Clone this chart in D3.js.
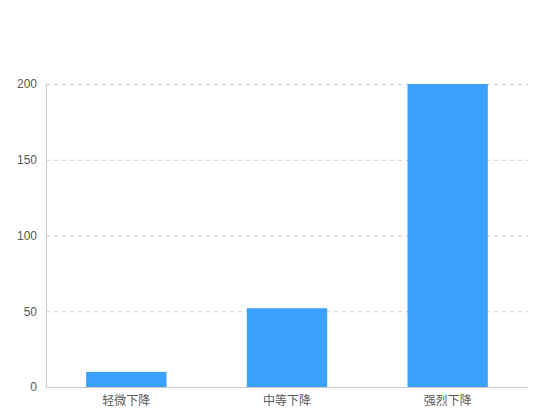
<!DOCTYPE html>
<html>
<head>
<meta charset="utf-8">
<script src="https://cdn.jsdelivr.net/npm/d3@7"></script>
<style>
  body { margin: 0; background: #fff; }
  text { font-family: "Liberation Sans", "Noto Sans CJK SC", sans-serif; }
</style>
</head>
<body>
<div id="chart"></div>
<script>
// data
const categories = ["轻微下降", "中等下降", "强烈下降"]
const values = [10, 52, 200]
const yTicks = [0, 50, 100, 150, 200]

const WIDTH = 550
const HEIGHT = 420
const margin = { top: 84, right: 22, bottom: 33, left: 46 }
const w = WIDTH - margin.left - margin.right
const h = HEIGHT - margin.top - margin.bottom

const svg = d3.select("#chart").append("svg")
  .attr("width", WIDTH)
  .attr("height", HEIGHT)

const g = svg.append("g").attr("transform", `translate(${margin.left},${margin.top})`)

const x = d3.scaleBand().domain(categories).range([0, w]).paddingInner(0.5).paddingOuter(0.25)
const y = d3.scaleLinear().domain([0, 200]).range([h, 0])

// dashed grid
g.selectAll(".grid")
  .data(yTicks.filter(d => d > 0))
  .enter()
  .append("line")
  .attr("x1", 0)
  .attr("x2", w)
  .attr("y1", d => y(d) + 0.5)
  .attr("y2", d => y(d) + 0.5)
  .attr("stroke", "#cccccc")
  .attr("stroke-dasharray", "4,4")

// bars
g.selectAll("rect")
  .data(values)
  .enter()
  .append("rect")
  .attr("x", (d, i) => x(categories[i]))
  .attr("y", d => y(d))
  .attr("width", x.bandwidth())
  .attr("height", d => h - y(d))
  .attr("fill", "#3aa1ff")

// y axis
const yAxis = g.append("g")
  .call(d3.axisLeft(y).tickValues(yTicks).tickSize(0).tickPadding(9))
yAxis.select(".domain").attr("stroke", "#cccccc")
yAxis.selectAll("text").attr("fill", "#595959").attr("font-size", 12)

// x axis
const xAxis = g.append("g")
  .attr("transform", `translate(0,${h})`)
  .call(d3.axisBottom(x).tickSize(0).tickPadding(9))
xAxis.select(".domain").attr("stroke", "#cccccc")
xAxis.selectAll("text").attr("fill", "#595959").attr("font-size", 12)
</script>
</body>
</html>
